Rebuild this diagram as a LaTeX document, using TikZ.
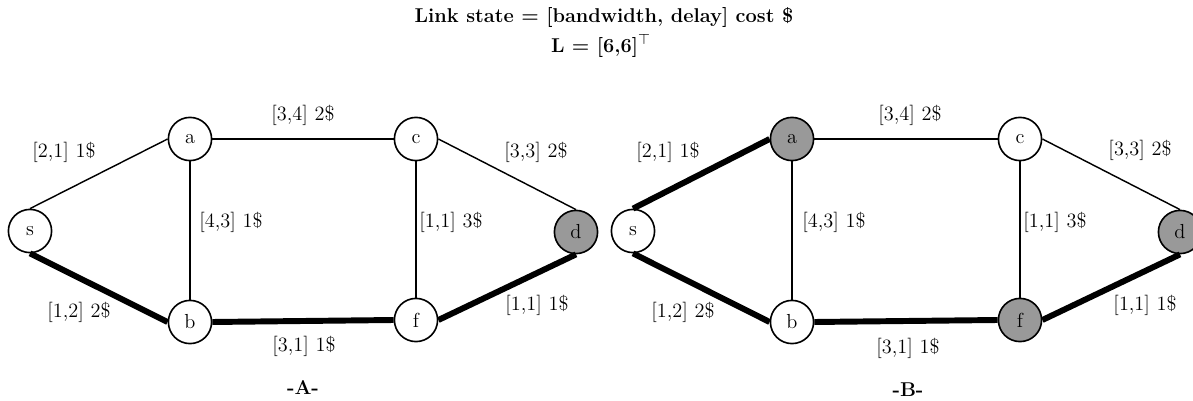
\documentclass[tikz,border=0pt]{standalone}
\usetikzlibrary{positioning}
\definecolor{nodegray}{RGB}{153,153,153}
\tikzset{
  vert/.style={circle,draw,line width=0.9pt,minimum size=24pt,inner sep=0pt,fill=white},
  dest/.style={vert,fill=nodegray},
  thin edge/.style={line width=0.8pt},
  path edge/.style={line width=3.3pt},
  lbl/.style={inner sep=1pt}
}
\begin{document}
\begin{tikzpicture}[x=0.5557pt,y=-0.5557pt,font=\fontsize{11.3}{13.5}\selectfont]
\useasboundingbox (0,0) rectangle (1193,401);
\node[font=\fontsize{11.1}{13.5}\selectfont\bfseries] (t1) at (604,18) {Link state = [bandwidth, delay] cost \$};
\node[font=\fontsize{11.1}{13.5}\selectfont\bfseries] (t2) at (601,46) {L = [6,6]$^\top$};
% ---------- A ----------
\begin{scope}
\node[vert] (sA) at (30,231) {s};
\node[vert] (aA) at (190,139) {a};
\node[vert] (bA) at (190,322) {b};
\node[vert] (cA) at (416,139) {c};
\node[vert] (fA) at (416,320) {f};
\node[dest] (dA) at (576,232) {d};
\draw[thin edge] (sA.north) -- (aA.west);
\draw[thin edge] (aA.east) -- (cA.west);
\draw[thin edge] (aA.south) -- (bA.north);
\draw[thin edge] (cA.south) -- (fA.north);
\draw[thin edge] (cA.east) -- (dA.north);
\draw[path edge] (sA.south) -- (bA.west);
\draw[path edge] (bA.east) -- (fA.west);
\draw[path edge] (fA.east) -- (dA.south);
\node[lbl] (l1A) at (303,115) {[3,4] 2\$};
\node[lbl] (l2A) at (64,152) {[2,1] 1\$};
\node[lbl] (l3A) at (231,222) {[4,3] 1\$};
\node[lbl] (l4A) at (451,222) {[1,1] 3\$};
\node[lbl] (l5A) at (536,152) {[3,3] 2\$};
\node[lbl] (l6A) at (79,312) {[1,2] 2\$};
\node[lbl] (l7A) at (304,346) {[3,1] 1\$};
\node[lbl] (l8A) at (537,305) {[1,1] 1\$};
\node[font=\fontsize{11.1}{13.5}\selectfont\bfseries] (capA) at (303,388) {-A-};
\end{scope}
% ---------- B ----------
\begin{scope}
\node[vert] (sB) at (633,231) {s};
\node[dest] (aB) at (792,139) {a};
\node[vert] (bB) at (792,322) {b};
\node[vert] (cB) at (1020,139) {c};
\node[dest] (fB) at (1020,320) {f};
\node[dest] (dB) at (1180,232) {d};
\draw[thin edge] (aB.east) -- (cB.west);
\draw[thin edge] (aB.south) -- (bB.north);
\draw[thin edge] (cB.south) -- (fB.north);
\draw[thin edge] (cB.east) -- (dB.north);
\draw[path edge] (sB.north) -- (aB.west);
\draw[path edge] (sB.south) -- (bB.west);
\draw[path edge] (bB.east) -- (fB.west);
\draw[path edge] (fB.east) -- (dB.south);
\node[lbl] (l1B) at (910,115) {[3,4] 2\$};
\node[lbl] (l2B) at (668,152) {[2,1] 1\$};
\node[lbl] (l3B) at (834,222) {[4,3] 1\$};
\node[lbl] (l4B) at (1055,222) {[1,1] 3\$};
\node[lbl] (l5B) at (1140,150) {[3,3] 2\$};
\node[lbl] (l6B) at (683,312) {[1,2] 2\$};
\node[lbl] (l7B) at (908,348) {[3,1] 1\$};
\node[lbl] (l8B) at (1145,305) {[1,1] 1\$};
\node[font=\fontsize{11.1}{13.5}\selectfont\bfseries] (capB) at (908,390) {-B-};
\end{scope}
\end{tikzpicture}
\end{document}
